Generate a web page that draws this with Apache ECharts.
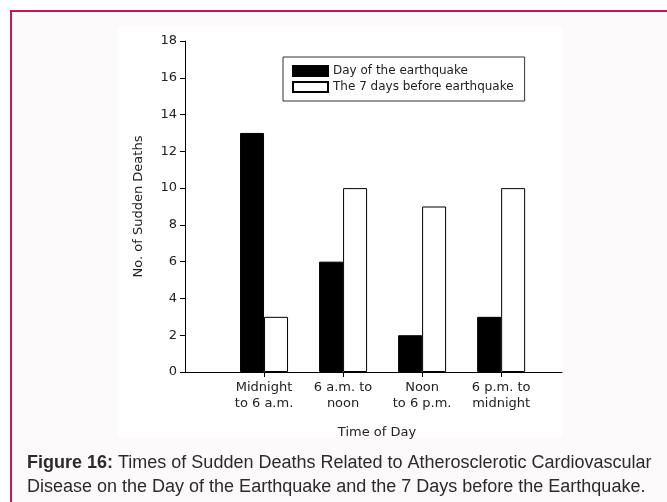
<!DOCTYPE html>
<html>
<head>
<meta charset="utf-8">
<script src="https://cdn.jsdelivr.net/npm/echarts@6/dist/echarts.min.js"></script>
<style>
  html, body { margin: 0; padding: 0; background: #fff; }
  #chart { width: 667px; height: 502px; }
</style>
</head>
<body>
<div id="chart"></div>
<script>
// data
var categories = ['Midnight\nto 6 a.m.', '6 a.m. to\nnoon', 'Noon\nto 6 p.m.', '6 p.m. to\nmidnight'];
var catPos = [1, 2, 3, 4];
var dayOfQuake = [13, 6, 2, 3];
var weekBefore = [3, 10, 9, 10];
var yTicks = [0, 2, 4, 6, 8, 10, 12, 14, 16, 18];

var font = 'DejaVu Sans';
var myChart = echarts.init(document.getElementById('chart'));

var option = {
    backgroundColor: '#fff',
    animation: false,
    textStyle: { fontFamily: font },
    graphic: [
        // page frame + panel
        { type: 'rect', silent: true, z: -10, shape: { x: 11, y: 11, width: 656, height: 491 }, style: { fill: '#fcfafb' } },
        { type: 'line', silent: true, shape: { x1: 10, y1: 11, x2: 667, y2: 11 }, style: { stroke: '#c2184b', lineWidth: 2 } },
        { type: 'line', silent: true, shape: { x1: 11, y1: 10, x2: 11, y2: 502 }, style: { stroke: '#c2184b', lineWidth: 2 } },
        { type: 'rect', silent: true, z: -9, shape: { x: 118, y: 27, width: 445, height: 410 }, style: { fill: '#fff' } },
        {
            type: 'text', left: 27, top: 451,
            style: {
                text: '{b|Figure 16:} Times of Sudden Deaths Related to Atherosclerotic Cardiovascular\nDisease on the Day of the Earthquake and the 7 Days before the Earthquake.',
                font: '18px "Liberation Sans"',
                fill: '#2b2b2b',
                lineHeight: 24,
                rich: {
                    b: { fontWeight: 'bold', fontSize: 18, fontFamily: 'Liberation Sans', fill: '#2b2b2b' }
                }
            }
        }
    ],
    legend: {
        orient: 'vertical',
        left: 283,
        top: 57,
        itemWidth: 35,
        itemHeight: 10,
        itemGap: 4,
        padding: [8, 11, 8, 9],
        borderColor: '#333',
        borderWidth: 1,
        icon: 'rect',
        textStyle: { fontFamily: font, fontSize: 12, color: '#222', lineHeight: 12 },
        data: ['Day of the earthquake', 'The 7 days before earthquake']
    },
    grid: { left: 185, top: 41, right: 105, bottom: 130 },
    xAxis: {
        type: 'value',
        min: 0,
        max: 4.77,
        interval: 1,
        name: 'Time of Day',
        nameLocation: 'middle',
        nameGap: 54,
        nameTextStyle: { fontFamily: font, fontSize: 13, color: '#222', padding: [0, 0, 0, 7] },
        splitLine: { show: false },
        axisLine: { lineStyle: { color: '#000', width: 1 } },
        axisTick: { show: true, length: 5, lineStyle: { color: '#000' }, customValues: catPos },
        axisLabel: {
            customValues: catPos,
            margin: 8,
            fontFamily: font,
            fontSize: 13,
            color: '#222',
            lineHeight: 16,
            formatter: function (v) { return categories[catPos.indexOf(v)] || ''; }
        }
    },
    yAxis: {
        type: 'value',
        min: 0,
        max: 18,
        interval: 2,
        name: 'No. of Sudden Deaths',
        nameLocation: 'middle',
        nameGap: 40,
        nameTextStyle: { fontFamily: font, fontSize: 13, color: '#222' },
        splitLine: { show: false },
        axisLine: { show: true, lineStyle: { color: '#000', width: 1 } },
        axisTick: { show: true, length: 5, lineStyle: { color: '#000' } },
        axisLabel: {
            margin: 8,
            fontFamily: font,
            fontSize: 13,
            color: '#222',
            customValues: yTicks
        }
    },
    series: [
        {
            name: 'Day of the earthquake',
            type: 'bar',
            barWidth: 24,
            barGap: '0%',
            data: catPos.map(function (x, i) { return [x, dayOfQuake[i]]; }),
            itemStyle: { color: '#000', borderColor: '#000', borderWidth: 1 }
        },
        {
            name: 'The 7 days before earthquake',
            type: 'bar',
            barWidth: 24,
            barGap: '0%',
            data: catPos.map(function (x, i) { return [x, weekBefore[i]]; }),
            itemStyle: { color: '#fff', borderColor: '#000', borderWidth: 1 }
        }
    ]
};

myChart.setOption(option);
</script>
</body>
</html>
